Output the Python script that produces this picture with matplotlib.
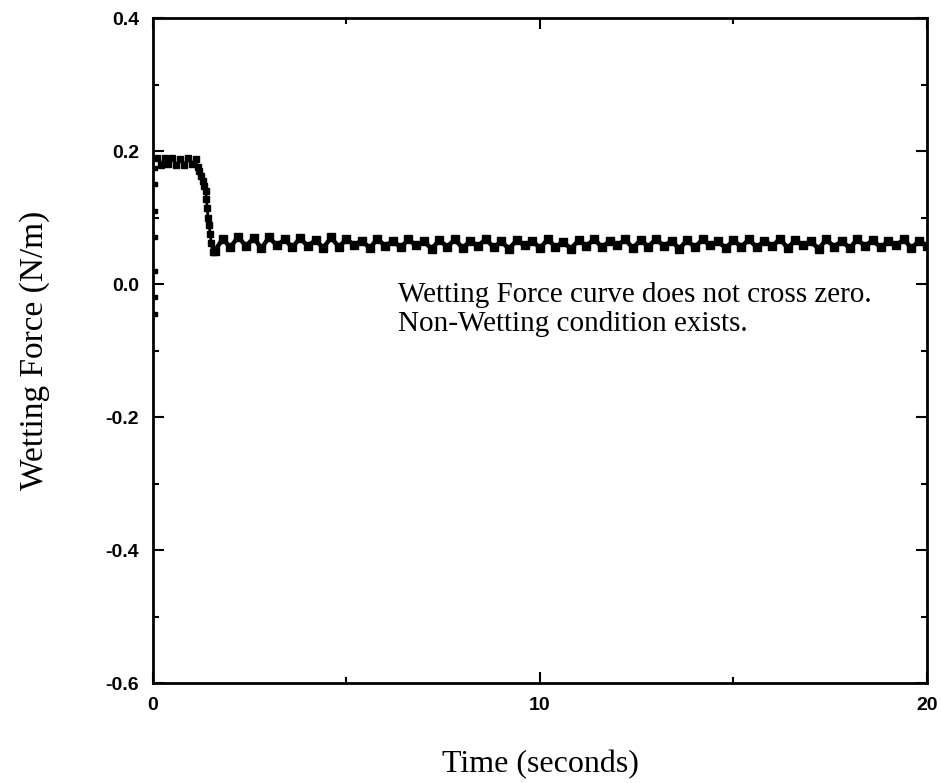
import matplotlib
matplotlib.use('Agg')
import matplotlib.pyplot as plt
from matplotlib.ticker import MultipleLocator
import numpy as np

# start-up points sitting on the y axis
t_start = [0.05, 0.05, 0.05, 0.05, 0.05, 0.05, 0.05]
f_start = [-0.045, -0.02, 0.02, 0.07, 0.11, 0.15, 0.175]

# initial plateau and the drop
t_drop = [0.1, 0.2, 0.3, 0.4, 0.5, 0.6, 0.7, 0.8, 0.9, 1.0, 1.1, 1.15, 1.2, 1.25, 1.3,
          1.33, 1.36, 1.38, 1.4, 1.42, 1.45, 1.48, 1.5, 1.55]
f_drop = [0.190, 0.179, 0.189, 0.180, 0.190, 0.179, 0.188, 0.179, 0.189, 0.180, 0.188,
          0.176, 0.170, 0.163, 0.155, 0.148, 0.140, 0.128, 0.115, 0.100, 0.088, 0.075,
          0.062, 0.048]

# settled band, sampled every 0.2 s
t_band = np.round(np.arange(1.6, 20.01, 0.2), 1)
f_band = [0.050, 0.068, 0.055, 0.071, 0.057, 0.069, 0.054, 0.070, 0.058, 0.067,
          0.055, 0.069, 0.057, 0.066, 0.054, 0.070, 0.056, 0.067, 0.059, 0.065,
          0.054, 0.068, 0.057, 0.065, 0.055, 0.067, 0.058, 0.064, 0.053, 0.066,
          0.056, 0.067, 0.054, 0.065, 0.057, 0.068, 0.055, 0.064, 0.053, 0.066,
          0.058, 0.065, 0.054, 0.067, 0.056, 0.063, 0.053, 0.066, 0.057, 0.068,
          0.055, 0.065, 0.058, 0.067, 0.054, 0.066, 0.056, 0.068, 0.057, 0.065,
          0.053, 0.066, 0.055, 0.067, 0.058, 0.064, 0.054, 0.066, 0.056, 0.067,
          0.055, 0.065, 0.057, 0.068, 0.054, 0.066, 0.058, 0.064, 0.053, 0.067,
          0.056, 0.065, 0.054, 0.067, 0.057, 0.066, 0.055, 0.064, 0.058, 0.067,
          0.054, 0.065, 0.057]

x_ticks = [0, 10, 20]
y_ticks = [-0.6, -0.4, -0.2, 0.0, 0.2, 0.4]
y_tick_labels = ['-0.6', '-0.4', '-0.2', '0.0', '0.2', '0.4']

note = 'Wetting Force curve does not cross zero.\nNon-Wetting condition exists.'

serif = ['Liberation Serif', 'DejaVu Serif']
tickfont = {'family': 'Liberation Sans', 'weight': 'bold', 'size': 14}

fig = plt.figure(figsize=(9.41, 7.83), dpi=100)
ax = fig.add_axes([0.1626, 0.1277, 0.8225, 0.8493])

ax.plot(t_start, f_start, 's', color='black', ms=3)
ax.plot(t_drop, f_drop, 's-', color='black', ms=4, lw=2)
ax.plot(t_band, f_band, 's-', color='black', ms=6, lw=3.2)

ax.set_xlim(0, 20)
ax.set_ylim(-0.6, 0.4)
ax.set_xticks(x_ticks)
ax.set_xticklabels([str(v) for v in x_ticks], fontdict=tickfont)
ax.set_yticks(y_ticks)
ax.set_yticklabels(y_tick_labels, fontdict=tickfont)
ax.xaxis.set_minor_locator(MultipleLocator(5))
ax.yaxis.set_minor_locator(MultipleLocator(0.1))
ax.tick_params(which='both', direction='in', top=True, right=True, width=1.5)
ax.tick_params(which='major', length=8, pad=10)
ax.tick_params(which='minor', length=4.5)
for s in ax.spines.values():
    s.set_linewidth(2)

ax.set_xlabel('Time (seconds)', family=serif, fontsize=23, labelpad=26)
ax.set_ylabel('Wetting Force (N/m)', family=serif, fontsize=24, labelpad=40)

ax.text(0.316, 0.562, note, transform=ax.transAxes, family=serif, fontsize=21,
        va='center', ha='left', linespacing=1.15)

fig.savefig('out.png', dpi=100)
